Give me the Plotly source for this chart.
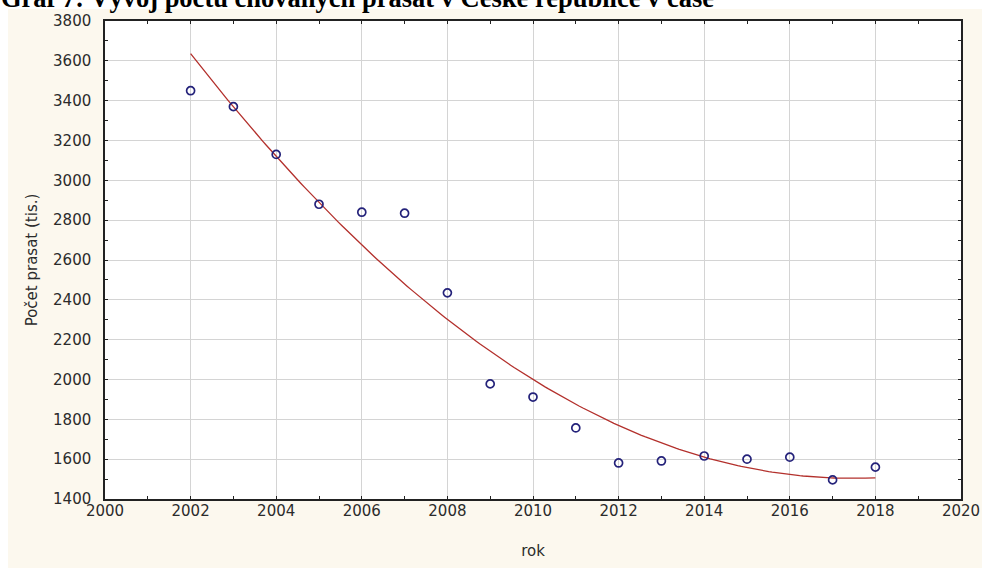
import numpy as np
import plotly.graph_objects as go

# ---- data ----
years = [2002, 2003, 2004, 2005, 2006, 2007, 2008, 2009, 2010,
         2011, 2012, 2013, 2014, 2015, 2016, 2017, 2018]
pigs = [3450, 3370, 3130, 2880, 2840, 2835, 2435, 1978, 1912,
        1757, 1581, 1591, 1616, 1600, 1610, 1496, 1560]
x_ticks = list(range(2000, 2021, 2))
y_ticks = list(range(1400, 3801, 200))

title_text = "Graf 7: Vývoj počtu chovaných prasat v České republice v čase"
x_title = "rok"
y_title = "Počet prasat (tis.)"

# quadratic least-squares fit (as drawn in the original)
coef = np.polyfit(years, pigs, 2)
fit_x = np.linspace(min(years), max(years), 200)
fit_y = np.polyval(coef, fit_x)

W, H = 982, 568
L, R, T, B = 105, 21, 21, 69
pw, ph = W - L - R, H - T - B

cream = "#FCF8EE"
lab_font = dict(family="DejaVu Sans", size=15, color="#2b2b2b")

fig = go.Figure()
fig.add_trace(go.Scatter(x=fit_x, y=fit_y, mode="lines",
                         line=dict(color="#b3302c", width=1.3),
                         hoverinfo="skip", showlegend=False))
fig.add_trace(go.Scatter(x=years, y=pigs, mode="markers",
                         marker=dict(symbol="circle-open", size=8,
                                     color="#24227a", line=dict(width=1.7)),
                         showlegend=False))

def px2paper_x(px):
    return (px - L) / pw

def px2paper_y(py):
    return 1 - (py - T) / ph

shapes = [
    # white strip on top and on the left (page background outside the chart image)
    dict(type="rect", xref="paper", yref="paper",
         x0=px2paper_x(0), x1=px2paper_x(W), y0=px2paper_y(9), y1=px2paper_y(0),
         fillcolor="white", line=dict(width=0), layer="below"),
    dict(type="rect", xref="paper", yref="paper",
         x0=px2paper_x(0), x1=px2paper_x(8), y0=px2paper_y(H), y1=px2paper_y(0),
         fillcolor="white", line=dict(width=0), layer="below"),
]

fig.update_layout(
    width=W, height=H,
    margin=dict(l=L, r=R, t=T, b=B, autoexpand=False),
    paper_bgcolor=cream, plot_bgcolor="white",
    shapes=shapes,
    annotations=[dict(text="<b>" + title_text + "</b>", xref="paper", yref="paper",
                      x=px2paper_x(-1), y=px2paper_y(15), xanchor="left", yanchor="bottom",
                      showarrow=False,
                      font=dict(family="Liberation Serif", size=26.5, color="black"))],
)

fig.update_xaxes(
    range=[2000, 2020], tickvals=x_ticks, ticktext=[str(v) for v in x_ticks],
    ticks="inside", ticklen=3, tickcolor="#222", mirror="ticks",
    showline=True, linecolor="#222", linewidth=1.5,
    showgrid=True, gridcolor="#d4d4d4", gridwidth=1, zeroline=False,
    minor=dict(dtick=1, tick0=2000, ticks="inside", ticklen=3, tickcolor="#222", showgrid=False),
    tickfont=lab_font, ticklabelstandoff=-3,
    title=dict(text=x_title, font=lab_font, standoff=27),
)
fig.update_yaxes(
    range=[1400, 3800], tickvals=y_ticks, ticktext=[str(v) for v in y_ticks],
    ticks="inside", ticklen=3, tickcolor="#222", mirror="ticks",
    showline=True, linecolor="#222", linewidth=1.5,
    showgrid=True, gridcolor="#d4d4d4", gridwidth=1, zeroline=False,
    minor=dict(dtick=100, tick0=1400, ticks="inside", ticklen=3, tickcolor="#222", showgrid=False),
    tickfont=lab_font, ticklabelstandoff=9,
    title=dict(text=y_title, font=lab_font, standoff=12),
)

# page body has a default 8px margin; remove it so the figure fills the window
fig.write_html("out.html", config={"displayModeBar": False},
               post_script="document.body.style.margin='0';")
